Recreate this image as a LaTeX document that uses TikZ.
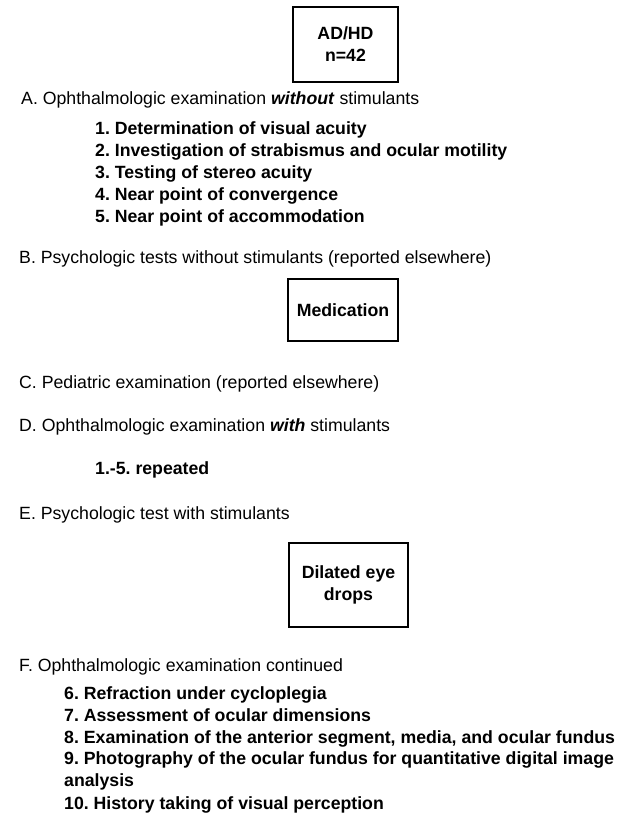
\documentclass[tikz,border=0pt]{standalone}
\usepackage{fontspec}
\setmainfont{Liberation Sans}
\frenchspacing
\begin{document}
\begin{tikzpicture}[x=1pt,y=-1pt,
  txt/.style={anchor=base west,inner sep=0pt,font=\fontsize{17.7}{22}\selectfont\frenchspacing},
  itm/.style={txt,font=\fontsize{17.7}{22}\selectfont\bfseries\frenchspacing},
  boxnode/.style={draw,line width=1.5pt,align=center,inner sep=0pt,font=\fontsize{17.7}{22}\selectfont\bfseries}]
\useasboundingbox (0,0) rectangle (629,814);
\node[boxnode,minimum width=105pt,minimum height=75pt] (adhd) at (345.5,44.5) {AD/HD\\n=42};
\node[txt] (A) at (21,104) {A. Ophthalmologic examination \textbf{\textit{without}} stimulants};
\node[itm] (a1) at (95,134) {1. Determination of visual acuity};
\node[itm] (a2) at (95,156) {2. Investigation of strabismus and ocular motility};
\node[itm] (a3) at (95,178) {3. Testing of stereo acuity};
\node[itm] (a4) at (95,200) {4. Near point of convergence};
\node[itm] (a5) at (95,222) {5. Near point of accommodation};
\node[txt] (B) at (19,263) {B. Psychologic tests without stimulants (reported elsewhere)};
\node[boxnode,minimum width=110pt,minimum height=62pt] (med) at (343,310) {Medication};
\node[txt] (C) at (19,388) {C. Pediatric examination (reported elsewhere)};
\node[txt] (D) at (19,431) {D. Ophthalmologic examination \textbf{\textit{with}} stimulants};
\node[itm] (d1) at (95,474) {1.-5. repeated};
\node[txt] (E) at (19,519) {E. Psychologic test with stimulants};
\node[boxnode,minimum width=119pt,minimum height=84pt] (drops) at (348.5,585) {Dilated eye\\drops};
\node[txt] (F) at (19,671) {F. Ophthalmologic examination continued};
\node[itm] (f6) at (64,699) {6. Refraction under cycloplegia};
\node[itm] (f7) at (64,721) {7. Assessment of ocular dimensions};
\node[itm] (f8) at (64,743) {8. Examination of the anterior segment, media, and ocular fundus};
\node[itm] (f9) at (64,764) {9. Photography of the ocular fundus for quantitative digital image};
\node[itm] (f9b) at (64,786) {analysis};
\node[itm] (f10) at (64,809) {10. History taking of visual perception};
\end{tikzpicture}
\end{document}
